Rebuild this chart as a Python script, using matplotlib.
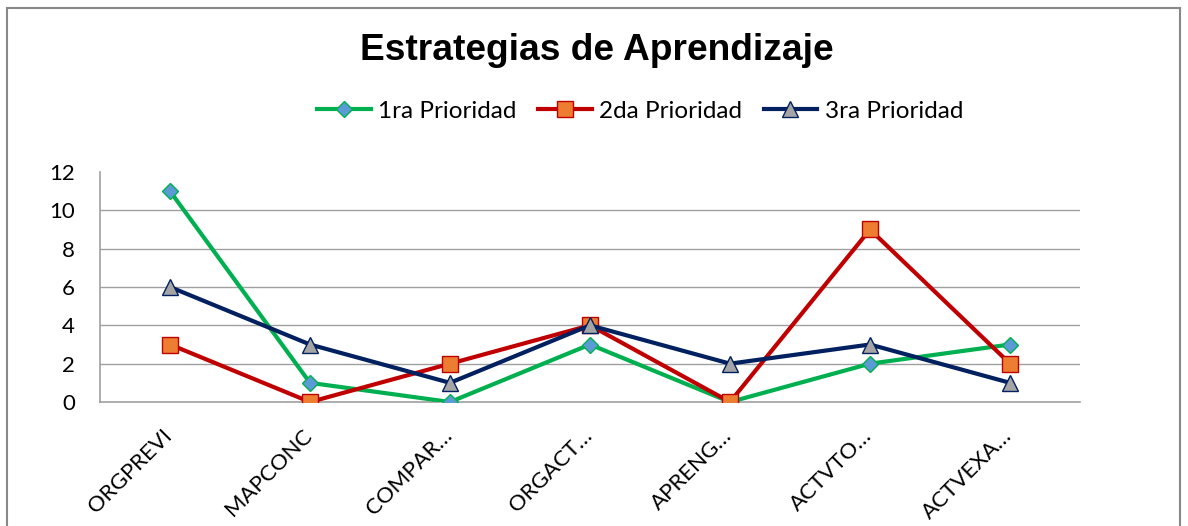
import matplotlib
matplotlib.use("Agg")
import matplotlib.pyplot as plt
import matplotlib.transforms as mtransforms
from matplotlib.patches import Rectangle

categories = ["ORGPREVI", "MAPCONC", "COMPAR…", "ORGACT…", "APRENG…", "ACTVTO…", "ACTVEXA…"]
prioridad_1 = [11, 1, 0, 3, 0, 2, 3]
prioridad_2 = [3, 0, 2, 4, 0, 9, 2]
prioridad_3 = [6, 3, 1, 4, 2, 3, 1]

W, H = 1188, 526
fig = plt.figure(figsize=(W / 100, H / 100), dpi=100)
plt.rcParams['font.family'] = ['Lato', 'DejaVu Sans']

# chart border (runs off the bottom like the screenshot)
fig.patches.append(Rectangle((7 / W, -0.1), (1180 - 7) / W, 1.1 - 8 / H,
                             transform=fig.transFigure, fill=False,
                             edgecolor="#888888", linewidth=1.5))

ax = fig.add_axes([100 / W, 1 - 402 / H, 980 / W, 230 / H])
x = range(len(categories))

ax.plot(x, prioridad_1, color="#00B050", linewidth=3, marker="D", markersize=8,
        markerfacecolor="#5B9BD5", markeredgecolor="#00B050", label="1ra Prioridad", zorder=3)
ax.plot(x, prioridad_2, color="#C00000", linewidth=3, marker="s", markersize=11,
        markerfacecolor="#ED7D31", markeredgecolor="#C00000", label="2da Prioridad", zorder=3)
ax.plot(x, prioridad_3, color="#002060", linewidth=3, marker="^", markersize=11,
        markerfacecolor="#A5A5A5", markeredgecolor="#002060", label="3ra Prioridad", zorder=3)

ax.set_xlim(-0.5, len(categories) - 0.5)
ax.set_ylim(0, 12)
ax.set_yticks(range(0, 13, 2))
for y in range(2, 12, 2):
    ax.axhline(y, color="#A0A0A0", linewidth=1, zorder=1)

for s in ["top", "right"]:
    ax.spines[s].set_visible(False)
for s in ["left", "bottom"]:
    ax.spines[s].set_color("#A0A0A0")
    ax.spines[s].set_linewidth(1.2)

ax.tick_params(axis="y", length=0, labelsize=16, pad=18)
ax.tick_params(axis="x", length=0, labelsize=16, pad=17)
ax.set_xticks(list(x))
ax.set_xticklabels(categories, rotation=45, ha="right", va="top", rotation_mode="anchor")
shift = mtransforms.ScaledTranslation(-8 / 100, 0, fig.dpi_scale_trans)
for lab in ax.get_xticklabels():
    lab.set_transform(lab.get_transform() + shift)

fig.text(597 / W, 1 - 51 / H, "Estrategias de Aprendizaje", ha="center", va="center",
         fontsize=26.7, fontweight="bold", family=["Liberation Sans", "DejaVu Sans"])

fig.legend(loc="center", bbox_to_anchor=(640 / W, 1 - 111 / H), ncol=3, frameon=False,
           fontsize=17.5, handlelength=2.2, columnspacing=0.9, handletextpad=0.3)

fig.savefig("out.png", dpi=100)
